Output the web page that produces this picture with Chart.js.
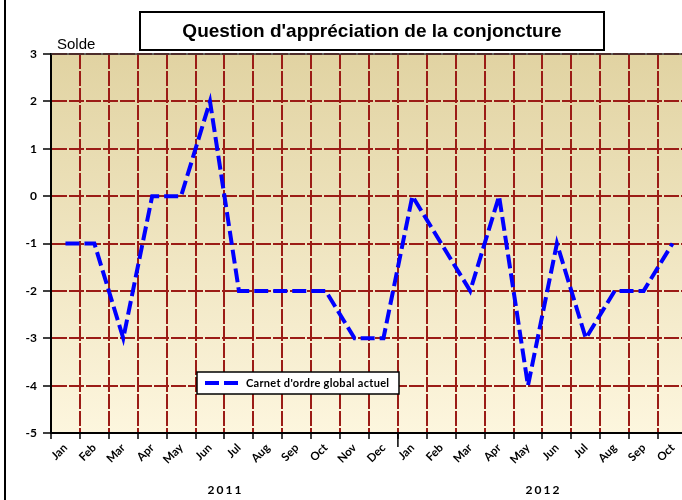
<!DOCTYPE html>
<html>
<head>
<meta charset="utf-8">
<script src="https://cdn.jsdelivr.net/npm/chart.js@4"></script>
<style>
  html, body { margin: 0; padding: 0; background: #fff; overflow: hidden; }
  #wrap { width: 690px; height: 500px; }
</style>
</head>
<body>
<div id="wrap"><canvas id="chart" width="690" height="500"></canvas></div>
<script>
// chart data
const months = ['Jan', 'Feb', 'Mar', 'Apr', 'May', 'Jun', 'Jul', 'Aug', 'Sep', 'Oct', 'Nov', 'Dec',
                'Jan', 'Feb', 'Mar', 'Apr', 'May', 'Jun', 'Jul', 'Aug', 'Sep', 'Oct'];
const years = ['2011', '2011', '2011', '2011', '2011', '2011', '2011', '2011', '2011', '2011', '2011', '2011',
               '2012', '2012', '2012', '2012', '2012', '2012', '2012', '2012', '2012', '2012'];
const carnetOrdre = [-1, -1, -3, 0, 0, 2, -2, -2, -2, -2, -3, -3,
                     0, -1, -2, 0, -4, -1, -3, -2, -2, -1];
const seriesLabel = "Carnet d'ordre global actuel";
const titleText = "Question d'appréciation de la conjoncture";
const yAxisLabel = 'Solde';

const gridRed = '#9b1c16';

// Background gradient, frame, title, legend and year labels
const decorPlugin = {
    id: 'decor',
    beforeDraw(chart) {
        const { ctx, chartArea: a } = chart;
        ctx.save();
        const g = ctx.createLinearGradient(0, a.top, 0, a.bottom);
        g.addColorStop(0, '#e1d3a2');
        g.addColorStop(1, '#fdf6de');
        ctx.fillStyle = g;
        ctx.fillRect(a.left, a.top, a.right - a.left, a.bottom - a.top);
        ctx.restore();
    },
    afterDraw(chart) {
        const { ctx, chartArea: a } = chart;
        const x = chart.scales.x;
        ctx.save();

        // outer frame line on the left
        ctx.strokeStyle = '#000';
        ctx.lineWidth = 2;
        ctx.beginPath();
        ctx.moveTo(5, 0);
        ctx.lineTo(5, 500);
        ctx.stroke();

        // plot top border
        ctx.lineWidth = 1.5;
        ctx.strokeStyle = '#333';
        ctx.beginPath();
        ctx.moveTo(a.left, a.top);
        ctx.lineTo(a.right, a.top);
        ctx.stroke();

        // title box
        ctx.fillStyle = '#fff';
        ctx.fillRect(140, 12, 464, 38);
        ctx.lineWidth = 2;
        ctx.strokeStyle = '#000';
        ctx.strokeRect(140, 12, 464, 38);
        ctx.fillStyle = '#000';
        ctx.font = 'bold 19px "Liberation Sans", Arial, sans-serif';
        ctx.textAlign = 'center';
        ctx.textBaseline = 'middle';
        ctx.fillText(titleText, 372, 32);

        // axis label
        ctx.font = '15px "Liberation Sans Narrow", "Liberation Sans", sans-serif';
        ctx.textAlign = 'left';
        ctx.fillText(yAxisLabel, 57, 45);

        // legend
        ctx.fillStyle = '#fff';
        ctx.fillRect(197, 372, 202, 22);
        ctx.lineWidth = 1.5;
        ctx.strokeRect(197, 372, 202, 22);
        ctx.strokeStyle = '#0000ff';
        ctx.lineWidth = 4;
        ctx.setLineDash([14, 5]);
        ctx.beginPath();
        ctx.moveTo(205, 383);
        ctx.lineTo(239, 383);
        ctx.stroke();
        ctx.setLineDash([]);
        ctx.fillStyle = '#000';
        ctx.font = 'bold 11px Lato, "Open Sans", sans-serif';
        ctx.letterSpacing = '0.3px';
        ctx.textBaseline = 'middle';
        ctx.fillText(seriesLabel, 246, 383);

        // year labels + separator ticks
        const groups = [];
        years.forEach((y, i) => {
            const last = groups[groups.length - 1];
            if (last && last.year === y) last.end = i;
            else groups.push({ year: y, start: i, end: i });
        });
        ctx.font = 'bold 12px Lato, "Open Sans", sans-serif';
        ctx.letterSpacing = '2px';
        ctx.textAlign = 'center';
        ctx.strokeStyle = '#000';
        ctx.lineWidth = 1.5;
        groups.forEach((grp, k) => {
            const cx = (x.getPixelForValue(grp.start) + x.getPixelForValue(grp.end)) / 2;
            ctx.fillText(grp.year, cx + 1, 490);
            if (k > 0) {
                const step = x.getPixelForValue(1) - x.getPixelForValue(0);
                const sx = x.getPixelForValue(grp.start) - step / 2;
                ctx.beginPath();
                ctx.moveTo(sx, a.bottom);
                ctx.lineTo(sx, a.bottom + 14);
                ctx.stroke();
            }
        });
        ctx.restore();
    }
};

new Chart(document.getElementById('chart'), {
    type: 'line',
    data: {
        labels: months,
        datasets: [{
            label: seriesLabel,
            data: carnetOrdre,
            borderColor: '#0000ff',
            borderWidth: 4,
            borderDash: [14, 5],
            borderCapStyle: 'butt',
            pointRadius: 0,
            tension: 0,
            fill: false
        }]
    },
    options: {
        responsive: false,
        animation: false,
        layout: { padding: { top: 54, right: 3, left: 0, bottom: 0 } },
        plugins: {
            legend: { display: false },
            tooltip: { enabled: false }
        },
        scales: {
            x: {
                offset: true,
                grid: {
                    offset: true,
                    color: gridRed,
                    lineWidth: 2,
                    tickLength: 6,
                    tickColor: '#000',
                    tickWidth: 1.5
                },
                border: { color: '#000', width: 2, dash: [15, 2] },
                ticks: {
                    color: '#000',
                    font: { family: 'Lato, "Open Sans", sans-serif', size: 11.5, weight: 'bold' },
                    maxRotation: 45,
                    minRotation: 45,
                    autoSkip: false,
                    padding: 2
                },
                afterFit(scale) { scale.height = 67; }
            },
            y: {
                min: -5,
                max: 3,
                ticks: {
                    stepSize: 1,
                    color: '#000',
                    font: { family: 'Lato, "Open Sans", sans-serif', size: 12, weight: 'bold' },
                    padding: 6
                },
                grid: {
                    color: gridRed,
                    lineWidth: 2,
                    tickLength: 8,
                    tickColor: '#000',
                    tickWidth: 1.5
                },
                border: { color: '#000', width: 2, dash: [15, 2] },
                afterFit(scale) { scale.width = 51; }
            }
        }
    },
    plugins: [decorPlugin]
});
</script>
</body>
</html>
